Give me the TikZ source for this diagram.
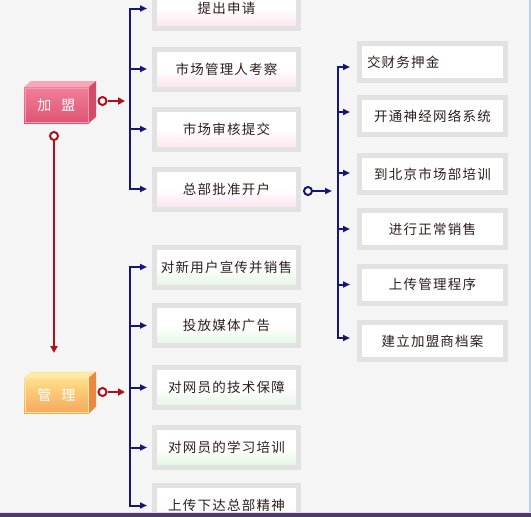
\documentclass[tikz,border=0pt]{standalone}
\usepackage{fontspec}
\newfontfamily\cjk[LetterSpace=9]{Noto Sans CJK SC}
\usetikzlibrary{arrows.meta,calc}
\definecolor{bg}{HTML}{F5F5F5}
\definecolor{boxgray}{HTML}{E2E2E2}
\definecolor{txt}{HTML}{2E1E1E}
\definecolor{pinkb}{HTML}{FBE3EE}
\definecolor{greenb}{HTML}{E2F6E2}
\definecolor{navy}{HTML}{16167A}
\definecolor{darkred}{HTML}{B0101C}
\definecolor{jmtop}{HTML}{F7A7BA}
\definecolor{jmf1}{HTML}{F07F99}
\definecolor{jmf2}{HTML}{E05474}
\definecolor{jmside}{HTML}{D24C6A}
\definecolor{gltop}{HTML}{FDE9A8}
\definecolor{glf1}{HTML}{FDE08C}
\definecolor{glf2}{HTML}{F6A75A}
\definecolor{glside}{HTML}{EA8844}
\definecolor{barcol}{HTML}{4E3B6E}
\begin{document}
\begin{tikzpicture}[x=1pt,y=-1pt,
  item/.style={draw=boxgray, line width=5pt, minimum width=144pt, minimum height=40pt,
    inner sep=0pt, font=\cjk\fontsize{13.5}{16}\selectfont, text=txt},
  pinkbox/.style={item, top color=white, bottom color=pinkb, middle color=white},
  greenbox/.style={item, top color=white, bottom color=greenb, middle color=white},
  rbox/.style={item, fill=white, minimum width=146pt, minimum height=37pt},
  front/.style={minimum width=65pt, minimum height=36pt, inner sep=0pt, outer sep=0pt,
    text=white, font=\cjk\fontsize{14}{16}\selectfont},
  ring/.style={circle, draw=#1, line width=2pt, fill=white, minimum size=8pt, inner sep=0pt},
  bline/.style={draw=navy, line width=2pt},
  barrow/.style={bline, -{Triangle[length=7pt,width=6pt]}},
  bboth/.style={bline, {Triangle[length=7pt,width=6pt]}-{Triangle[length=7pt,width=6pt]}},
  rarrow/.style={draw=darkred, line width=2pt, -{Triangle[length=7pt,width=7pt]}},
]
\useasboundingbox (0,0) rectangle (531,517);
\clip (0,0) rectangle (531,517);
\fill[bg] (0,0) rectangle (531,517);
\draw[line width=1.5pt, color={rgb,255:red,190;green,208;blue,240}] (529.8,0) -- (529.8,512);

% spines
\coordinate (lsp) at (130,0);
\coordinate (rsp) at (338,0);

% top-left boxes
\node[pinkbox] (a1) at (226.5,8.5) {提出申请};
\node[pinkbox] (a2) at (226.5,69) {市场管理人考察};
\node[pinkbox] (a3) at (226.5,129) {市场审核提交};
\node[pinkbox] (a4) at (226.5,189) {总部批准开户};

% bottom-left boxes
\node[greenbox] (b1) at (226.5,267) {对新用户宣传并销售};
\node[greenbox] (b2) at (226.5,325.5) {投放媒体广告};
\node[greenbox] (b3) at (226.5,387.5) {对网员的技术保障};
\node[greenbox] (b4) at (226.5,447.5) {对网员的学习培训};
\node[greenbox] (b5) at (226.5,505.5) {上传下达总部精神};

% right boxes
\node[rbox, text width=131pt, align=left, inner sep=7.5pt] (r1) at (432.5,62) {交财务押金};
\node[rbox] (r2) at (432.5,116) {开通神经网络系统};
\node[rbox] (r3) at (432.5,174) {到北京市场部培训};
\node[rbox] (r4) at (432.5,229) {进行正常销售};
\node[rbox] (r5) at (432.5,284.5) {上传管理程序};
\node[rbox] (r6) at (432.5,341) {建立加盟商档案};

% 3D boxes
\node[front, top color=jmf1, bottom color=jmf2] (jm) at (56.5,105) {加\hspace{10pt}盟};
\fill[jmtop] (jm.north west) -- ++(7,-6) -- ($(jm.north east)+(7,-6)$) -- (jm.north east) -- cycle;
\fill[jmside] (jm.north east) -- ++(7,-6) -- ++(0,36) -- (jm.south east) -- cycle;
\draw[line width=0.6pt, color=jmtop!70!jmf1] ([shift={(1,-1)}]jm.south west) rectangle ([shift={(-1,1)}]jm.north east);

\node[front, top color=glf1, bottom color=glf2] (gl) at (56.5,395.5) {管\hspace{10pt}理};
\fill[gltop] (gl.north west) -- ++(7,-6) -- ($(gl.north east)+(7,-6)$) -- (gl.north east) -- cycle;
\fill[glside] (gl.north east) -- ++(7,-6) -- ++(0,35) -- (gl.south east) -- cycle;
\draw[line width=0.6pt, color=gltop!70!glf1] ([shift={(1,-1)}]gl.south west) rectangle ([shift={(-1,1)}]gl.north east);

% rings
\node[ring=darkred] (c1) at (102.5,101) {};
\node[ring=darkred] (c2) at (54,136) {};
\node[ring=darkred] (c3) at (102.5,392) {};
\node[ring=navy] (c4) at (308,191) {};

% red connectors
\draw[rarrow, shorten >=5pt] (c1.east) -- (lsp |- c1);
\draw[rarrow, shorten >=5pt] (c3.east) -- (lsp |- c3);
\coordinate (dtip) at (54,353);
\draw[rarrow] (c2.south) -- (dtip);
\draw[barrow, shorten >=6pt] (c4.east) -- (rsp |- c4);

% left-top tree
\draw[bboth, shorten <=5pt, shorten >=5pt] (a1.west) -| (lsp |- a4) -- (a4.west);
\draw[barrow, shorten >=5pt] (lsp |- a2) -- (a2.west);
\draw[barrow, shorten >=5pt] (lsp |- a3) -- (a3.west);

% left-bottom tree
\draw[bboth, shorten <=5pt, shorten >=5pt] (b1.west) -| (lsp |- b5) -- (b5.west);
\draw[barrow, shorten >=5pt] (lsp |- b2) -- (b2.west);
\draw[barrow, shorten >=5pt] (lsp |- b3) -- (b3.west);
\draw[barrow, shorten >=5pt] (lsp |- b4) -- (b4.west);

% right tree
\coordinate (q1) at ([yshift=-5pt]r1.west);
\coordinate (q2) at ([yshift=4pt]r2.west);
\coordinate (q3) at ([yshift=1pt]r3.west);
\coordinate (q4) at (r4.west);
\coordinate (q5) at (r5.west);
\coordinate (q6) at ([yshift=3pt]r6.west);
\draw[bboth, shorten <=7pt, shorten >=7pt] (q1) -| (rsp |- q6) -- (q6);
\draw[barrow, shorten >=7pt] (rsp |- q2) -- (q2);
\draw[barrow, shorten >=7pt] (rsp |- q3) -- (q3);
\draw[barrow, shorten >=7pt] (rsp |- q4) -- (q4);
\draw[barrow, shorten >=7pt] (rsp |- q5) -- (q5);

% bottom bar (covers the last box)
\fill[barcol] (0,512.5) rectangle (531,517);
\draw[line width=0.8pt, color={rgb,255:red,238;green,222;blue,222}] (0,512) -- (531,512);
\end{tikzpicture}
\end{document}
